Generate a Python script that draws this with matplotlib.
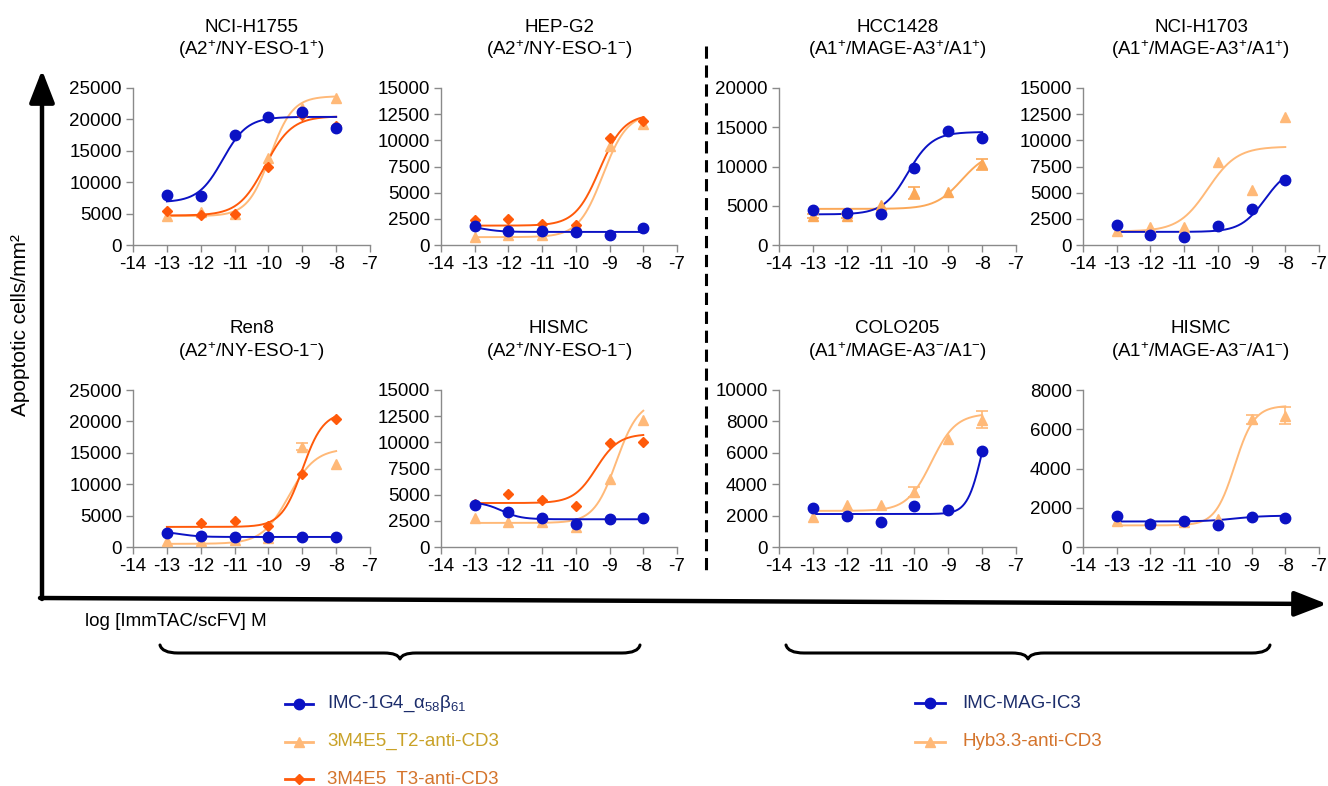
import numpy as np
import matplotlib
matplotlib.use('Agg')
import matplotlib.pyplot as plt
from matplotlib.path import Path
from matplotlib.patches import PathPatch

plt.rcParams['font.family'] = ['Liberation Sans', 'DejaVu Sans']
plt.rcParams['mathtext.fontset'] = 'custom'
plt.rcParams['mathtext.rm'] = 'Liberation Sans'
plt.rcParams['mathtext.it'] = 'Liberation Sans:italic'
plt.rcParams['mathtext.bf'] = 'Liberation Sans:bold'
plt.rcParams['mathtext.default'] = 'regular'

# ---------------- data ----------------
log_conc = [-13, -12, -11, -10, -9, -8]
x_ticks = [-14, -13, -12, -11, -10, -9, -8, -7]

titles = ['NCI-H1755', 'HEP-G2', 'HCC1428', 'NCI-H1703',
          'Ren8', 'HISMC', 'COLO205', 'HISMC']
subtitles = ['(A2$^{+}$/NY-ESO-1$^{+}$)', '(A2$^{+}$/NY-ESO-1$^{-}$)',
             '(A1$^{+}$/MAGE-A3$^{+}$/A1$^{+}$)', '(A1$^{+}$/MAGE-A3$^{+}$/A1$^{+}$)',
             '(A2$^{+}$/NY-ESO-1$^{-}$)', '(A2$^{+}$/NY-ESO-1$^{-}$)',
             '(A1$^{+}$/MAGE-A3$^{-}$/A1$^{-}$)', '(A1$^{+}$/MAGE-A3$^{-}$/A1$^{-}$)']
y_max = [25000, 15000, 20000, 15000, 25000, 15000, 10000, 8000]
y_step = [5000, 2500, 5000, 2500, 5000, 2500, 2000, 2000]

# NY-ESO-1 panels: IMC-1G4, 3M4E5_T2-anti-CD3, 3M4E5_T3-anti-CD3
h1755_imc = [8000, 7800, 17500, 20400, 21200, 18700]
h1755_t2 = [4600, 5300, 5000, 13800, 21800, 23400]
h1755_t3 = [5400, 4800, 5000, 12500, 20700, 19000]
hepg2_imc = [1800, 1300, 1350, 1250, 950, 1600]
hepg2_t2 = [800, 1000, 950, 1900, 9500, 11600]
hepg2_t3 = [2350, 2450, 2050, 1900, 10200, 11800]
ren8_imc = [2300, 1800, 1600, 1600, 1600, 1600]
ren8_t2 = [1000, 1000, 1100, 1500, 16000, 13200]
ren8_t2_err = [0, 0, 0, 0, 600, 0]
ren8_t3 = [2400, 3900, 4200, 3400, 11700, 20400]
hismc2_imc = [4000, 3350, 2750, 2200, 2700, 2750]
hismc2_t2 = [2800, 2350, 2400, 1950, 6500, 12100]
hismc2_t3 = [4100, 5100, 4500, 3900, 9900, 10000]

# MAGE-A3 panels: IMC-MAG-IC3, Hyb3.3-anti-CD3
hcc1428_imc = [4500, 4100, 3900, 9800, 14500, 13600]
hcc1428_hyb = [3700, 3700, 5100, 6650, 6700, 10300]
hcc1428_hyb_err = [300, 300, 0, 800, 0, 700]
h1703_imc = [1900, 950, 750, 1800, 3400, 6200]
h1703_hyb = [1300, 1700, 1700, 7900, 5300, 12200]
colo205_imc = [2500, 2000, 1600, 2600, 2350, 6100]
colo205_hyb = [1900, 2700, 2650, 3500, 6900, 8100]
colo205_hyb_err = [0, 0, 0, 300, 0, 550]
hismc1_imc = [1600, 1150, 1300, 1100, 1550, 1500]
hismc1_hyb = [1300, 1200, 1250, 1450, 6500, 6700]
hismc1_hyb_err = [0, 0, 0, 0, 250, 450]

# fitted curve parameters: (low, high, logEC50, hill)
h1755_imc_fit = (6800, 20400, -11.35, 1.2)
h1755_t2_fit = (4600, 23700, -9.95, 1.3)
h1755_t3_fit = (4700, 20500, -10.1, 1.1)
hepg2_imc_fit = (1900, 1250, -12.8, 1.5)
hepg2_t2_fit = (750, 12600, -9.2, 1.2)
hepg2_t3_fit = (1850, 12500, -9.3, 1.2)
ren8_imc_fit = (2500, 1600, -12.6, 1.5)
ren8_t2_fit = (500, 15700, -9.4, 1.1)
ren8_t3_fit = (3200, 21500, -9.0, 1.4)
hismc2_imc_fit = (4300, 2650, -12.2, 1.5)
hismc2_t2_fit = (2300, 14000, -8.8, 1.3)
hismc2_t3_fit = (4200, 10800, -9.4, 1.3)
hcc1428_imc_fit = (3900, 14400, -10.2, 1.2)
hcc1428_hyb_fit = (4600, 12000, -8.6, 1.1)
h1703_imc_fit = (1250, 7500, -8.6, 1.2)
h1703_hyb_fit = (1300, 9400, -10.3, 1.0)
colo205_imc_fit = (2100, 10000, -8.0, 2.0)
colo205_hyb_fit = (2300, 8500, -9.5, 1.2)
hismc1_imc_fit = (1300, 1600, -9.5, 1.0)
hismc1_hyb_fit = (1100, 7200, -9.5, 1.5)

legend_left = ['IMC-1G4_$\\alpha_{58}\\beta_{61}$', '3M4E5_T2-anti-CD3', '3M4E5  T3-anti-CD3']
legend_right = ['IMC-MAG-IC3', 'Hyb3.3-anti-CD3']

# ---------------- styles ----------------
BLUE = '#0b12c4'
LIGHT = '#ffb978'
DARK = '#ff5a0a'
HYB = '#fba858'
ZERO = [0] * 6

st_imc = dict(color=BLUE, marker='o', ms=7.5)
st_t2 = dict(color=LIGHT, marker='^', ms=7.5)
st_t3 = dict(color=DARK, marker='D', ms=5.5)
st_hyb = dict(color=LIGHT, marker='^', ms=7.5)
st_hyb3 = dict(color=HYB, marker='^', ms=7.5)

panels = [
    [(h1755_t2, ZERO, h1755_t2_fit, st_t2), (h1755_t3, ZERO, h1755_t3_fit, st_t3), (h1755_imc, ZERO, h1755_imc_fit, st_imc)],
    [(hepg2_t2, ZERO, hepg2_t2_fit, st_t2), (hepg2_t3, ZERO, hepg2_t3_fit, st_t3), (hepg2_imc, ZERO, hepg2_imc_fit, st_imc)],
    [(hcc1428_hyb, hcc1428_hyb_err, hcc1428_hyb_fit, st_hyb3), (hcc1428_imc, ZERO, hcc1428_imc_fit, st_imc)],
    [(h1703_hyb, ZERO, h1703_hyb_fit, st_hyb), (h1703_imc, ZERO, h1703_imc_fit, st_imc)],
    [(ren8_t2, ren8_t2_err, ren8_t2_fit, st_t2), (ren8_t3, ZERO, ren8_t3_fit, st_t3), (ren8_imc, ZERO, ren8_imc_fit, st_imc)],
    [(hismc2_t2, ZERO, hismc2_t2_fit, st_t2), (hismc2_t3, ZERO, hismc2_t3_fit, st_t3), (hismc2_imc, ZERO, hismc2_imc_fit, st_imc)],
    [(colo205_hyb, colo205_hyb_err, colo205_hyb_fit, st_hyb), (colo205_imc, ZERO, colo205_imc_fit, st_imc)],
    [(hismc1_hyb, hismc1_hyb_err, hismc1_hyb_fit, st_hyb), (hismc1_imc, ZERO, hismc1_imc_fit, st_imc)],
]

# panel boxes in pixels (x0, y0, x1, y1)
boxes = [(133, 88, 370, 245), (441, 88, 677, 245), (779, 88, 1016, 245), (1083, 88, 1319, 245),
         (133, 390, 370, 547), (441, 390, 677, 547), (779, 390, 1016, 547), (1083, 390, 1319, 547)]

W, H = 1328, 786
fig = plt.figure(figsize=(W / 100, H / 100), dpi=100)
FS = 13.5
GRAY = '#8a8a8a'


def four_pl(x, low, high, logec50, hill):
    return low + (high - low) / (1.0 + 10.0 ** ((logec50 - x) * hill))


def fbox(b):
    x0, y0, x1, y1 = b
    return [x0 / W, 1 - y1 / H, (x1 - x0) / W, (y1 - y0) / H]


xs = np.linspace(log_conc[0], log_conc[-1], 300)
for i, series in enumerate(panels):
    ax = fig.add_axes(fbox(boxes[i]))
    ax.set_facecolor('none')
    for vals, err, fit, st in series:
        ax.plot(xs, four_pl(xs, *fit), color=st['color'], lw=1.4, zorder=2)
        e = np.array(err, dtype=float)
        m = e > 0
        if m.any():
            ax.errorbar(np.array(log_conc)[m], np.array(vals)[m], yerr=e[m], fmt='none',
                        ecolor=st['color'], elinewidth=1.2, capsize=4, capthick=1.2, zorder=3)
        ax.plot(log_conc, vals, ls='none', marker=st['marker'], ms=st['ms'],
                color=st['color'], mec=st['color'], zorder=4, clip_on=False)
    ax.set_xlim(-14, -7)
    ax.set_ylim(0, y_max[i])
    ax.set_xticks(x_ticks)
    ax.set_xticklabels([str(t) for t in x_ticks])
    yt = np.arange(0, y_max[i] + 1, y_step[i])
    ax.set_yticks(yt)
    ax.set_yticklabels([str(int(v)) for v in yt])
    for s in ['top', 'right']:
        ax.spines[s].set_visible(False)
    for s in ['left', 'bottom']:
        ax.spines[s].set_color(GRAY)
        ax.spines[s].set_linewidth(1.0)
    ax.tick_params(axis='both', direction='out', length=5, width=1.0, color=GRAY,
                   labelsize=FS, pad=3, labelcolor='black')
    x0, y0, x1, y1 = boxes[i]
    cx = (x0 + x1) / 2 / W
    top = y0 - 61
    fig.text(cx, 1 - top / H, titles[i], ha='center', va='center', fontsize=FS)
    fig.text(cx, 1 - (top + 23) / H, subtitles[i], ha='center', va='center', fontsize=FS)

# ---------------- overlay (pixel coordinates) ----------------
ov = fig.add_axes([0, 0, 1, 1])
ov.set_xlim(0, W)
ov.set_ylim(H, 0)
ov.axis('off')
ov.set_zorder(-1)

# big axis arrows
ov.annotate('', xy=(42, 70), xytext=(42, 599),
            arrowprops=dict(arrowstyle='-|>,head_length=0.9,head_width=0.35', lw=3.2,
                            color='black', shrinkA=0, shrinkB=0, mutation_scale=22))
ov.annotate('', xy=(1327, 604), xytext=(40, 598),
            arrowprops=dict(arrowstyle='-|>,head_length=0.9,head_width=0.35', lw=3.2,
                            color='black', shrinkA=0, shrinkB=0, mutation_scale=22))

# dashed separator
ov.plot([706, 706], [46, 575], color='black', lw=2.2, ls=(0, (4, 2.2)))

ov.text(21, 325, 'Apoptotic cells/mm²', rotation=90, ha='center', va='center', fontsize=15)
ov.text(85, 622, 'log [ImmTAC/scFV] M', ha='left', va='center', fontsize=FS)


def brace(x0, x1, y_end, y_mid, y_tip):
    xc = (x0 + x1) / 2
    verts = [(x0, y_end), (x0 + 2, y_mid), (x0 + 18, y_mid),
             (xc - 16, y_mid),
             (xc - 2, y_mid), (xc, y_tip),
             (xc + 2, y_mid), (xc + 16, y_mid),
             (x1 - 18, y_mid),
             (x1 - 2, y_mid), (x1, y_end)]
    codes = [Path.MOVETO, Path.CURVE3, Path.CURVE3, Path.LINETO,
             Path.CURVE3, Path.CURVE3, Path.CURVE3, Path.CURVE3,
             Path.LINETO, Path.CURVE3, Path.CURVE3]
    ov.add_patch(PathPatch(Path(verts, codes), fill=False, lw=2.2, color='black',
                           capstyle='round', joinstyle='round'))


brace(160, 640, 645, 653, 659)
brace(786, 1270, 645, 653, 659)

# legends
left_styles = [st_imc, st_t2, st_t3]
left_colors = ['#1c2d6b', '#c9a228', '#d4742c']
for j, lab in enumerate(legend_left):
    y = 704 + j * 37.5
    st = left_styles[j]
    ov.plot([285, 313], [y, y], color=st['color'], lw=2.0)
    ov.plot([299], [y], marker=st['marker'], ms=st['ms'], color=st['color'], ls='none')
    ov.text(327, y, lab, ha='left', va='center', fontsize=FS, color=left_colors[j])

right_styles = [st_imc, st_hyb]
right_colors = ['#1c2d6b', '#d4742c']
for j, lab in enumerate(legend_right):
    y = 703 + j * 39
    st = right_styles[j]
    ov.plot([915, 945], [y, y], color=st['color'], lw=2.0)
    ov.plot([930], [y], marker=st['marker'], ms=st['ms'], color=st['color'], ls='none')
    ov.text(962, y, lab, ha='left', va='center', fontsize=FS, color=right_colors[j])

fig.savefig('out.png', dpi=100)
